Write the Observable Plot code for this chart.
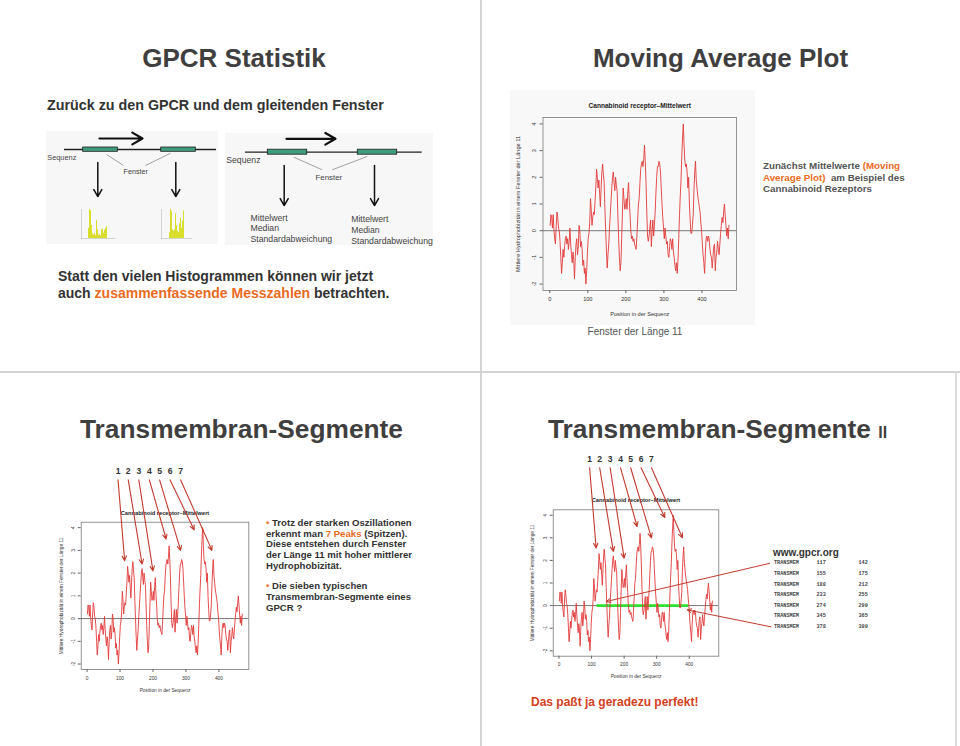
<!DOCTYPE html>
<html>
<head>
<meta charset="utf-8">
<script src="https://cdn.jsdelivr.net/npm/d3@7"></script>
<script src="https://cdn.jsdelivr.net/npm/@observablehq/plot@0.6"></script>
<style>
  body { margin: 0; background: #fff; }
  #page { position: relative; width: 960px; height: 746px; overflow: hidden; background: #fff;
          font-family: "Liberation Sans", Arial, sans-serif; color: #3a3a3a; }
  .abs { position: absolute; white-space: nowrap; }
  .ttl { position: absolute; white-space: nowrap; font-weight: bold; color: #3f3f3f; line-height: 1; }
  .or { color: #ea6a1e; }
  .sep { position: absolute; background: #d3d3d3; }
  .box { position: absolute; }
  .tm { position: absolute; font-family: "Liberation Mono", "DejaVu Sans Mono", monospace; font-size: 5.2px; font-weight: bold; color: #444; line-height: 1; }
</style>
</head>
<body>
<div id="page"></div>
<script>
// ---------------- data ----------------
const positions = [
  1,3,5,7,9,11,13,15,17,19,
  21,23,25,27,29,31,33,35,37,39,
  41,43,45,47,49,51,53,55,57,59,
  61,63,65,67,69,71,73,75,77,79,
  81,83,85,87,89,91,93,95,97,99,
  101,103,105,107,109,111,113,115,117,119,
  121,123,125,127,129,131,133,135,137,139,
  141,143,145,147,149,151,153,155,157,159,
  161,163,165,167,169,171,173,175,177,179,
  181,183,185,187,189,191,193,195,197,199,
  201,203,205,207,209,211,213,215,217,219,
  221,223,225,227,229,231,233,235,237,239,
  241,243,245,247,249,251,253,255,257,259,
  261,263,265,267,269,271,273,275,277,279,
  281,283,285,287,289,291,293,295,297,299,
  301,303,305,307,309,311,313,315,317,319,
  321,323,325,327,329,331,333,335,337,339,
  341,343,345,347,349,351,353,355,357,359,
  361,363,365,367,369,371,373,375,377,379,
  381,383,385,387,389,391,393,395,397,399,
  401,403,405,407,409,411,413,415,417,419,
  421,423,425,427,429,431,433,435,437,439,
  441,443,445,447,449,451,453,455,457,459,
  461,463,465,467,469,471
];
const meanHydro = [
  0.2,0.6,0.5,0.1,0.6,0.0,-0.3,-0.5,0.2,0.7,
  0.5,0.1,0.0,-0.4,-1.0,-1.6,-1.2,-0.7,-1.0,-0.6,
  -0.3,-0.2,-0.5,-0.3,-0.7,-0.4,0.1,-0.5,-0.9,-1.2,
  -0.8,-1.1,-1.8,-1.0,-0.5,-0.3,-0.9,-0.6,0.2,0.0,
  -0.6,-0.4,-0.7,-1.3,-1.1,-1.6,-1.4,-2.0,-1.5,-0.8,
  -0.3,-0.1,0.3,1.2,0.8,0.2,0.5,0.7,0.6,1.1,
  1.6,2.3,2.0,1.6,1.9,1.4,0.9,1.6,2.2,2.5,
  2.1,1.8,0.8,0.0,-0.8,-1.4,-0.9,-0.5,0.1,0.6,
  1.1,1.6,2.0,2.2,1.8,1.5,2.0,1.7,1.5,0.6,
  -0.3,-1.0,-1.5,-1.2,-0.3,0.7,1.6,1.2,0.8,0.9,
  1.2,0.8,1.4,1.8,1.1,0.6,0.0,-0.3,-0.2,-0.4,
  -0.3,-0.5,-0.6,-0.7,-0.2,0.4,1.0,1.2,1.8,2.3,
  2.5,2.6,2.4,2.7,3.2,2.6,1.8,0.7,-0.2,-0.4,
  -0.2,0.1,0.4,-0.6,0.0,0.4,-0.2,0.2,0.7,1.4,
  2.0,2.4,2.4,2.6,2.5,2.2,1.6,1.0,0.5,0.1,
  -0.3,0.1,-0.2,-0.5,-0.4,-0.9,-1.0,-0.6,-0.3,-0.4,
  -0.7,-0.3,-0.8,-1.0,-1.3,-1.5,-1.2,-1.6,-1.1,-0.3,
  0.6,1.3,1.9,2.8,3.5,4.0,3.2,2.6,2.4,2.5,
  2.2,1.6,2.0,1.0,0.4,-0.1,-0.1,0.2,0.6,1.5,
  2.2,2.6,1.9,1.6,1.3,1.1,0.9,0.7,0.3,0.0,
  -0.5,-0.9,-1.2,-1.6,-0.8,-0.3,-0.2,-0.4,-0.2,-0.3,
  -0.7,-0.9,-1.0,-1.4,-1.0,-0.6,-0.5,-1.5,-1.0,-0.8,
  -0.4,-0.7,-0.9,-0.5,-0.1,0.2,0.5,0.3,0.7,1.0,
  0.6,0.2,-0.2,0.1,-0.3,0.2
];
const xTicks = [0, 100, 200, 300, 400];
const yTicks = [-2, -1, 0, 1, 2, 3, 4];
const xLim = [-17.8, 490.8];
const yLim = [-2.24, 4.24];
const chartTitle = "Cannabinoid receptor\u2013Mittelwert";
const xLabel = "Position in der Sequenz";
const yLabel = "Mittlere Hydrophobizität in einem Fenster der Länge 11";

// peaks annotated 1..7
const peakLabels = ["1","2","3","4","5","6","7"];
const peakLabelX = [94, 125, 157, 189, 220, 252, 284];
const peakTipX = [114, 167, 200, 240, 284, 325, 379];
const peakTipY = [2.55, 2.4, 2.1, 3.5, 3.0, 3.9, 3.0];

// www.gpcr.org TRANSMEM table
const tmStart = [117, 155, 188, 233, 274, 345, 378];
const tmEnd   = [142, 175, 212, 255, 299, 365, 399];
const tmLinkFromX = [647, 651];
const tmLinkFromY = [1.87, -0.94];
const tmLinkToX = [145, 394];
const tmLinkToY = [0.18, -0.19];

// schematic (top-left)
const histA = [0.35, 1.0, 0.95, 0.45, 0.15, 0.12, 0.18, 0.1, 0.62, 0.3, 0.1, 0.14, 0.08, 0.3, 0.32, 0.18, 0.28, 0.34, 0.4];
const histB = [0.2, 1.0, 0.92, 0.3, 0.25, 0.3, 0.85, 0.45, 0.25, 0.2, 0.5, 0.7, 0.35, 0.6, 0.95];
const statLabels = ["Mittelwert", "Median", "Standardabweichung"];

// ---------------- helpers ----------------
const page = document.getElementById("page");
function place(node, left, top, extraStyle) {
  const d = document.createElement("div");
  d.className = "box";
  d.style.left = left + "px";
  d.style.top = top + "px";
  if (extraStyle) Object.assign(d.style, extraStyle);
  d.appendChild(node);
  page.appendChild(d);
  return d;
}
function html(str, cls, style) {
  const d = document.createElement("div");
  d.className = cls || "abs";
  d.innerHTML = str;
  Object.assign(d.style, style || {});
  page.appendChild(d);
  return d;
}

const profile = positions.map((p, i) => ({pos: p, val: meanHydro[i]}));
const peaks = peakLabels.map((t, i) => ({t, lx: peakLabelX[i], tx: peakTipX[i], ty: peakTipY[i]}));
const tmLinks = tmLinkFromX.map((x, i) => ({x1: x, y1: tmLinkFromY[i], x2: tmLinkToX[i], y2: tmLinkToY[i]}));

function rChart(c) {
  const marks = [
    Plot.frame({stroke: "#7a7a7a", strokeWidth: 0.8}),
    Plot.axisX({ticks: xTicks, tickSize: 3, tickPadding: c.padX, stroke: "#666",
      label: xLabel, labelAnchor: "center", labelArrow: "none", labelOffset: c.xlo}),
    Plot.axisY({ticks: yTicks, tickSize: 3, tickPadding: c.padY, tickRotate: -90, stroke: "#666",
      tickFormat: d => String(d),
      label: yLabel, labelAnchor: "center", labelArrow: "none", labelOffset: c.ylo}),
    Plot.ruleY([0], {stroke: "#555", strokeWidth: 0.8})
  ];
  if (c.green) {
    marks.push(Plot.ruleY([0], {x1: d3.min(tmStart), x2: d3.max(tmEnd), stroke: "#2fe02f", strokeWidth: 2.6}));
  }
  marks.push(Plot.line(profile, {x: "pos", y: "val", stroke: "#e23a3a", strokeWidth: 0.9}));
  marks.push(Plot.text([chartTitle], {frameAnchor: "top", dy: c.titleDy, fontWeight: "bold", fontSize: c.titleFs, fill: "#222"}));
  if (c.peaks) {
    marks.push(Plot.arrow(peaks, {x1: "lx", y1: 6.1, x2: "tx", y2: "ty", stroke: "#c23a2e", strokeWidth: 1.1, headLength: 7, headAngle: 50}));
    marks.push(Plot.text(peaks, {x: "lx", y: 6.5, text: "t", fontWeight: "bold", fontSize: 8.6, fill: "#333"}));
  }
  if (c.links) {
    marks.push(Plot.arrow(tmLinks, {x1: "x1", y1: "y1", x2: "x2", y2: "y2", stroke: "#c23a2e", strokeWidth: 1, headLength: 7, headAngle: 50}));
  }
  return Plot.plot({
    width: c.w, height: c.h,
    marginLeft: c.ml, marginRight: c.mr, marginTop: c.mt, marginBottom: c.mb,
    style: {fontFamily: "'Liberation Sans', Arial, sans-serif", fontSize: c.fs + "px", color: "#333", background: "transparent", overflow: "visible"},
    x: {domain: xLim},
    y: {domain: yLim},
    marks
  });
}

function diagram(c) {
  const marks = [
    Plot.arrow([c.topArrow], {x1: "x1", x2: "x2", y1: "y", y2: "y", stroke: "#111", strokeWidth: 2.2, headLength: 8, headAngle: 60}),
    Plot.ruleY([c.seq], {x1: "x1", x2: "x2", y: "y", stroke: "#222", strokeWidth: 1.3}),
    Plot.rect(c.windows, {x1: "x1", x2: "x2", y1: "y1", y2: "y2", fill: "#3f9c7e", stroke: "#1e1e1e", strokeWidth: 0.8}),
    Plot.link(c.pointers, {x1: "x1", y1: "y1", x2: "x2", y2: "y2", stroke: "#8c8c8c", strokeWidth: 0.8}),
    Plot.arrow(c.down, {x1: "x", x2: "x", y1: "y1", y2: "y2", stroke: "#111", strokeWidth: 1.5, headLength: 8, headAngle: 60}),
    Plot.text(c.texts, {x: "x", y: "y", text: "t", textAnchor: "start", fontSize: d => d.fs, fill: "#444"})
  ];
  return Plot.plot({
    width: c.w, height: c.h, margin: 0,
    style: {fontFamily: "'Liberation Sans', Arial, sans-serif", background: "#f7f7f7", overflow: "visible"},
    x: {domain: [0, c.w], range: [0, c.w], axis: null},
    y: {domain: [0, c.h], range: [0, c.h], axis: null},
    marks
  });
}

function miniHist(values, w, h) {
  return Plot.plot({
    width: w, height: h, marginLeft: 6, marginRight: 1, marginTop: 4, marginBottom: 4,
    style: {background: "transparent"},
    x: {axis: null, padding: 0.15},
    y: {axis: null, domain: [0, 1]},
    marks: [
      Plot.barY(values, {x: (d, i) => i, y: d => d, fill: "#d9de2c"}),
      Plot.frame({anchor: "left", stroke: "#bbb", strokeWidth: 0.6}),
      Plot.frame({anchor: "bottom", stroke: "#bbb", strokeWidth: 0.6})
    ]
  });
}

// ---------------- separators ----------------
html("", "sep", {left: "480px", top: "0px", width: "2px", height: "746px"});
html("", "sep", {left: "0px", top: "371px", width: "960px", height: "2px"});
html("", "sep", {left: "955px", top: "373px", width: "1.5px", height: "373px", background: "#dcdcdc"});

// ---------------- top-left ----------------
html("GPCR Statistik", "ttl", {left: "234px", top: "57.5px", fontSize: "26px", transform: "translate(-50%,-50%)"});
html("Zurück zu den GPCR und dem gleitenden Fenster", "abs",
  {left: "47px", top: "98px", fontSize: "14.3px", fontWeight: "bold", color: "#333", lineHeight: "15px"});

place(diagram({
  w: 172, h: 113,
  topArrow: {x1: 53, x2: 96, y: 7},
  seq: {x1: 18, x2: 170, y: 18},
  windows: [{x1: 36.7, x2: 71.3, y1: 16, y2: 20.3}, {x1: 114.7, x2: 149.3, y1: 16, y2: 20.3}],
  pointers: [{x1: 77, y1: 34, x2: 60, y2: 23}, {x1: 99, y1: 34, x2: 124, y2: 21.7}],
  down: [{x: 51.3, y1: 31, y2: 65}, {x: 129.3, y1: 31, y2: 65}],
  texts: [{t: "Sequenz", x: 0.7, y: 26, fs: 7.4}, {t: "Fenster", x: 77, y: 40, fs: 7.2}]
}), 46, 131);

place(diagram({
  w: 208, h: 112,
  topArrow: {x1: 61, x2: 110, y: 5.3},
  seq: {x1: 20, x2: 196.7, y: 18.7},
  windows: [{x1: 42.3, x2: 81.7, y1: 16.2, y2: 21.2}, {x1: 132.3, x2: 171.7, y1: 16.2, y2: 21.2}],
  pointers: [{x1: 96.7, y1: 36.3, x2: 68.3, y2: 23.7}, {x1: 106.7, y1: 36.3, x2: 141.7, y2: 23}],
  down: [{x: 58.7, y1: 32, y2: 72}, {x: 149, y1: 32, y2: 72}],
  texts: [
    {t: "Sequenz", x: 0.7, y: 27, fs: 8.7},
    {t: "Fenster", x: 90, y: 43.7, fs: 7.9},
    ...statLabels.map((t, i) => ({t, x: 25, y: 84.3 + i * 10.8, fs: 8.7})),
    ...statLabels.map((t, i) => ({t, x: 125.7, y: 86 + i * 10.7, fs: 8.7}))
  ]
}), 225, 133);

place(miniHist(histA, 40, 37), 75, 205);
place(miniHist(histB, 37, 37), 155, 205);

html("Statt den vielen Histogrammen können wir jetzt<br>auch <span class='or'>zusammenfassende Messzahlen</span> betrachten.", "abs",
  {left: "58px", top: "268px", fontSize: "14px", fontWeight: "bold", color: "#333", lineHeight: "17px"});

// ---------------- top-right ----------------
html("Moving Average Plot", "ttl", {left: "720.5px", top: "58px", fontSize: "26px", transform: "translate(-50%,-50%)"});
place(rChart({w: 245, h: 235, ml: 32.5, mr: 19, mt: 27, mb: 35, fs: 5.6, titleFs: 6.6, titleDy: -14,
  padX: 4, padY: 3.7, xlo: 25.5, ylo: 27}), 510, 90, {background: "#f8f8f8"});
html("Zunächst Mittelwerte <span class='or'>(Moving<br>Average Plot)</span> &nbsp;am Beispiel des<br>Cannabinoid Rezeptors", "abs",
  {left: "763px", top: "160.4px", fontSize: "9.75px", fontWeight: "bold", color: "#555", lineHeight: "11.2px"});
html("Fenster der Länge 11", "abs",
  {left: "635px", top: "332px", fontSize: "10px", color: "#555", lineHeight: "1", transform: "translate(-50%,-50%)"});

// ---------------- bottom-left ----------------
html("Transmembran-Segmente", "ttl", {left: "241.5px", top: "429px", fontSize: "26.3px", transform: "translate(-50%,-50%)"});
place(rChart({w: 215, h: 245, ml: 30.7, mr: 16.7, mt: 66.7, mb: 31, fs: 4.8, titleFs: 5.7, titleDy: -11.7,
  padX: 4, padY: 3.6, xlo: 22.2, ylo: 21.2, peaks: true}), 50, 455);
html("<div><span class='or'>•</span> Trotz der starken Oszillationen<br>erkennt man <span class='or'>7 Peaks</span> (Spitzen).<br>Diese entstehen durch Fenster<br>der Länge 11 mit hoher mittlerer<br>Hydrophobizität.</div>" +
     "<div style='margin-top:9.4px'><span class='or'>•</span> Die sieben typischen<br>Transmembran-Segmente eines<br>GPCR ?</div>", "abs",
  {left: "266px", top: "517.9px", fontSize: "9.6px", fontWeight: "bold", color: "#333", lineHeight: "10.8px"});

// ---------------- bottom-right ----------------
html("Transmembran-Segmente <span style='font-size:16px'>II</span>", "ttl", {left: "548px", top: "429px", fontSize: "26.3px", transform: "translate(0,-50%)"});
place(rChart({w: 260, h: 240, ml: 32.7, mr: 61.7, mt: 64.3, mb: 29.3, fs: 4.8, titleFs: 5.7, titleDy: -12,
  padX: 3.6, padY: 3, xlo: 22.2, ylo: 23.1, peaks: true, green: true, links: true}), 520, 445);
html("www.gpcr.org", "abs", {left: "773px", top: "553px", fontSize: "10px", fontWeight: "bold", color: "#333", lineHeight: "1", transform: "translate(0,-50%)"});
tmStart.forEach((s, i) => {
  const y = 564 + i * 10.6;
  html("TRANSMEM", "tm", {left: "774px", top: (y - 2.6) + "px"});
  html(String(s), "tm", {left: "816.5px", top: (y - 2.6) + "px"});
  html(String(tmEnd[i]), "tm", {left: "858.5px", top: (y - 2.6) + "px"});
});
html("Das paßt ja geradezu perfekt!", "abs",
  {left: "531px", top: "702px", fontSize: "12px", fontWeight: "bold", color: "#d4401c", lineHeight: "1", transform: "translate(0,-50%)"});
</script>
</body>
</html>
